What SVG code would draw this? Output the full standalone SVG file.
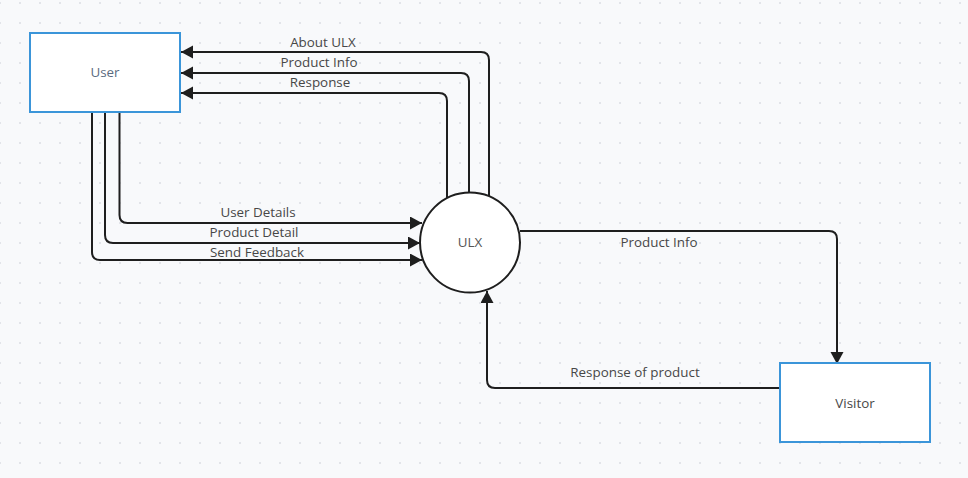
<svg xmlns="http://www.w3.org/2000/svg" width="968" height="478" viewBox="0 0 968 478">
  <defs>
    <pattern id="grid" x="0" y="3" width="20" height="20" patternUnits="userSpaceOnUse">
      <circle cx="0" cy="0" r="1.1" fill="#dcdfe5"/>
      <circle cx="20" cy="0" r="1.1" fill="#dcdfe5"/>
      <circle cx="0" cy="20" r="1.1" fill="#dcdfe5"/>
      <circle cx="20" cy="20" r="1.1" fill="#dcdfe5"/>
    </pattern>
    <marker id="arrow" markerUnits="userSpaceOnUse" markerWidth="14" markerHeight="14" refX="12" refY="6.5" orient="auto">
      <path d="M0,0 L12,6.5 L0,13 z" fill="#1e1e1e"/>
    </marker>
  </defs>
  <style>
    .conn { fill: none; stroke: #1e1e1e; stroke-width: 2; marker-end: url(#arrow); }
    .box { fill: #ffffff; stroke: #3b95d9; stroke-width: 2; }
    .proc { fill: #ffffff; stroke: #1e1e1e; stroke-width: 2; }
    .lbl { font-family: "Open Sans", "Noto Sans", "Liberation Sans", sans-serif; font-size: 13.4px; fill: #474747; text-anchor: middle; }
    .node { font-family: "Open Sans", "Noto Sans", "Liberation Sans", sans-serif; font-size: 13.4px; text-anchor: middle; }
  </style>
  <rect x="0" y="0" width="968" height="478" fill="#f8f9fb"/>
  <rect x="0" y="0" width="968" height="478" fill="url(#grid)"/>

  <g id="connectors">
    <path class="conn" d="M489,197 V60 Q489,52 481,52 H181"/>
    <path class="conn" d="M469,193 V81 Q469,73 461,73 H181"/>
    <path class="conn" d="M447,199 V101 Q447,93 439,93 H181"/>
    <path class="conn" d="M119.5,112 V215 Q119.5,223 127.5,223 H422"/>
    <path class="conn" d="M105,112 V235 Q105,243 113,243 H420"/>
    <path class="conn" d="M92,112 V252 Q92,260 100,260 H422"/>
    <path class="conn" d="M520,231 H829 Q837,231 837,239 V364"/>
    <path class="conn" d="M780,388 H495 Q487,388 487,380 V291"/>
    <text class="lbl" x="323" y="47">About ULX</text>
    <text class="lbl" x="319" y="67">Product Info</text>
    <text class="lbl" x="320" y="87">Response</text>
    <text class="lbl" x="258" y="217">User Details</text>
    <text class="lbl" x="254" y="237">Product Detail</text>
    <text class="lbl" x="257" y="257">Send Feedback</text>
    <text class="lbl" x="659" y="247">Product Info</text>
    <text class="lbl" x="635" y="377">Response of product</text>
  </g>

  <g id="node-user">
    <rect class="box" x="30" y="33" width="150" height="79"/>
    <text class="node" x="105" y="77" fill="#5b6b80">User</text>
  </g>

  <g id="node-ulx">
    <circle class="proc" cx="470" cy="242.5" r="50"/>
    <text class="node" x="470" y="247" fill="#555555">ULX</text>
  </g>

  <g id="node-visitor">
    <rect class="box" x="780" y="363" width="150" height="79"/>
    <text class="node" x="855" y="408" fill="#474747">Visitor</text>
  </g>
</svg>
